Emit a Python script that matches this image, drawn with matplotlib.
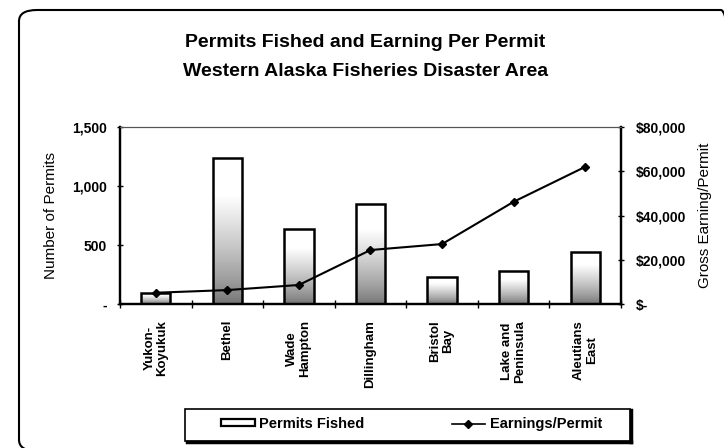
import numpy as np
import matplotlib.pyplot as plt
from matplotlib.patches import FancyBboxPatch, Patch, Rectangle
from matplotlib.lines import Line2D
from matplotlib.ticker import FuncFormatter

plt.rcParams['font.family'] = ['Liberation Sans', 'DejaVu Sans']

# дані
areas = ['Yukon-\nKoyukuk', 'Bethel', 'Wade\nHampton', 'Dillingham',
         'Bristol\nBay', 'Lake and\nPeninsula', 'Aleutians\nEast']
permits = [95, 1235, 633, 847, 231, 277, 443]
earnings = [5100, 6300, 8600, 24400, 27100, 46200, 62000]

fig = plt.figure(figsize=(7.24, 4.48), dpi=100)
ax = fig.add_axes([0.1657, 0.3214, 0.692, 0.3951])
ax2 = ax.twinx()

x = np.arange(len(areas)) + 0.5
bars = ax.bar(x, permits, width=0.41, facecolor='none', edgecolor='black',
              linewidth=1.8, zorder=2)

# градієнт всередині стовпчиків
grad = np.linspace(0, 1, 200).reshape(-1, 1)
grad = 0.45 + 0.55 * np.clip(grad / 0.75, 0, 1) ** 0.8
for b in bars:
    bx, bw, bh = b.get_x(), b.get_width(), b.get_height()
    im = ax.imshow(grad, cmap='gray', vmin=0, vmax=1, origin='lower',
                   extent=[bx, bx + bw, 0, bh], aspect='auto', zorder=1.5)
    im.set_clip_path(b)

ax.set_xlim(0, len(areas))
ax.set_ylim(0, 1500)
ax2.set_ylim(0, 80000)

ax2.plot(x, earnings, color='black', marker='D', markersize=4.5,
         linewidth=1.5)

ax.set_xticks(np.arange(len(areas) + 1))
ax.set_xticklabels([])
ax.tick_params(axis='x', direction='inout', length=6, width=1)
for xi, name in zip(x, areas):
    ax.text(xi, -0.09, name, transform=ax.get_xaxis_transform(), rotation=90,
            ha='center', va='top', fontsize=9.5, fontweight='bold',
            linespacing=1.1)

ax.set_yticks([0, 500, 1000, 1500])
ax.yaxis.set_major_formatter(FuncFormatter(lambda v, p: '-' if v == 0 else f'{v:,.0f}'))
ax.tick_params(axis='y', direction='inout', length=5, width=1, labelsize=10, pad=7)
for lab in ax.get_yticklabels():
    lab.set_fontweight('bold')

ax2.set_yticks([0, 20000, 40000, 60000, 80000])
ax2.yaxis.set_major_formatter(FuncFormatter(lambda v, p: '$-' if v == 0 else f'${v:,.0f}'))
ax2.tick_params(axis='y', direction='inout', length=5, width=1, labelsize=10, pad=8)
for lab in ax2.get_yticklabels():
    lab.set_fontweight('bold')

ax.set_ylabel('Number of Permits', fontsize=11, labelpad=10)
ax2.set_ylabel('Gross Earning/Permit', fontsize=11, labelpad=9)

for a in (ax, ax2):
    a.spines['left'].set_linewidth(1.6)
    a.spines['right'].set_linewidth(1.6)
    a.spines['bottom'].set_linewidth(1.6)
    a.spines['top'].set_linewidth(0.8)
    a.spines['top'].set_color('#555555')

fig.text(0.505, 0.905, 'Permits Fished and Earning Per Permit', ha='center',
         va='center', fontsize=14, fontweight='bold')
fig.text(0.505, 0.84, 'Western Alaska Fisheries Disaster Area', ha='center',
         va='center', fontsize=14, fontweight='bold')

handles = [Patch(facecolor='white', edgecolor='black', linewidth=1.6),
           Line2D([], [], color='black', marker='D', markersize=4, linewidth=1.2)]
leg = fig.legend(handles, ['Permits Fished', 'Earnings/Permit'], ncol=2,
                 loc='center left', bbox_to_anchor=(221 / 724, 1 - 424 / 448),
                 frameon=False, prop={'weight': 'bold', 'size': 10.5},
                 columnspacing=6.0, handlelength=2.3, handleheight=0.35,
                 handletextpad=0.3, borderpad=0, borderaxespad=0)

# рамка легенди з тінню
fig.patches.append(Rectangle((185 / 724, 1 - 441 / 448), 445 / 724, 32 / 448,
                             transform=fig.transFigure, facecolor='none',
                             edgecolor='black', linewidth=1.2))
fig.add_artist(Line2D([187 / 724, 631 / 724], [1 - 442 / 448] * 2,
                      transform=fig.transFigure, color='black', linewidth=2.5))
fig.add_artist(Line2D([631 / 724] * 2, [1 - 442 / 448, 1 - 410 / 448],
                      transform=fig.transFigure, color='black', linewidth=2.5))

border = FancyBboxPatch((19 / 724, -3 / 448), 720 / 724, 441 / 448,
                        boxstyle='round,pad=0,rounding_size=0.025',
                        transform=fig.transFigure, facecolor='none',
                        edgecolor='black', linewidth=1.5, clip_on=False)
fig.patches.append(border)

fig.savefig('out.png', dpi=100)
